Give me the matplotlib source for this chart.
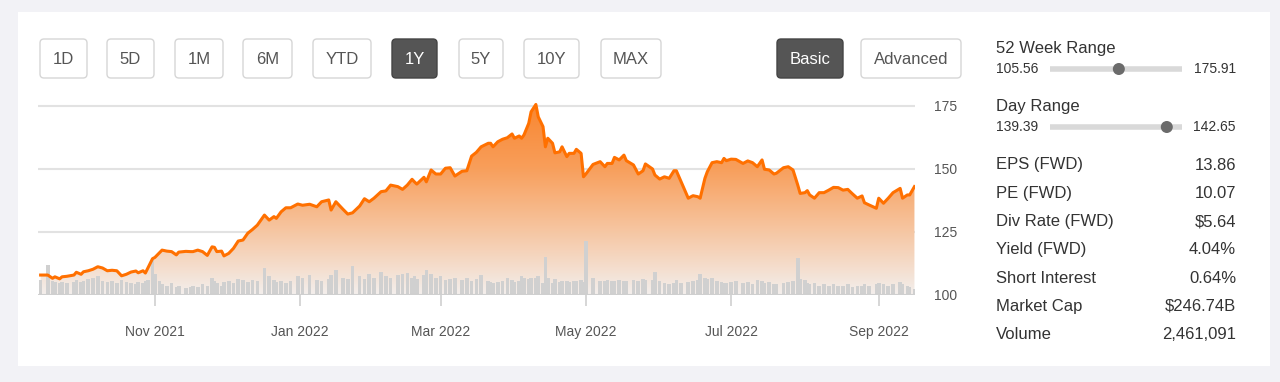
import matplotlib
matplotlib.use('Agg')
import matplotlib.pyplot as plt
import matplotlib.dates as mdates
from matplotlib.patches import FancyBboxPatch, Rectangle, Circle
from matplotlib.colors import LinearSegmentedColormap
import numpy as np
import pandas as pd

plt.rcParams['font.family'] = ['Liberation Sans', 'DejaVu Sans']

# price line
dates = [
    "2021-09-14", "2021-09-17", "2021-09-19", "2021-09-20", "2021-09-22", "2021-09-23", "2021-09-25",
    "2021-09-28", "2021-09-29", "2021-10-01", "2021-10-02", "2021-10-04", "2021-10-06", "2021-10-08",
    "2021-10-10", "2021-10-12", "2021-10-14", "2021-10-16", "2021-10-18", "2021-10-20", "2021-10-22",
    "2021-10-24", "2021-10-25", "2021-10-27", "2021-10-28", "2021-10-29", "2021-10-31",
    "2021-11-01", "2021-11-03", "2021-11-04", "2021-11-06", "2021-11-08", "2021-11-10", "2021-11-11",
    "2021-11-14", "2021-11-16", "2021-11-17", "2021-11-19", "2021-11-21", "2021-11-23", "2021-11-25",
    "2021-11-26", "2021-11-27", "2021-11-29", "2021-11-30", "2021-12-02", "2021-12-04", "2021-12-06",
    "2021-12-08", "2021-12-10", "2021-12-12",
    "2021-12-14", "2021-12-17", "2021-12-19", "2021-12-21", "2021-12-22", "2021-12-24", "2021-12-26",
    "2021-12-28", "2021-12-31", "2022-01-02", "2022-01-05", "2022-01-08", "2022-01-10", "2022-01-13",
    "2022-01-14", "2022-01-16", "2022-01-19", "2022-01-21", "2022-01-23", "2022-01-26", "2022-01-28",
    "2022-01-30", "2022-02-01", "2022-02-04", "2022-02-06", "2022-02-08", "2022-02-11", "2022-02-13",
    "2022-02-15", "2022-02-17", "2022-02-18", "2022-02-19", "2022-02-22", "2022-02-23", "2022-02-25",
    "2022-02-27", "2022-03-01", "2022-03-03", "2022-03-05", "2022-03-07", "2022-03-10", "2022-03-12",
    "2022-03-14", "2022-03-16", "2022-03-18", "2022-03-21", "2022-03-22", "2022-03-23", "2022-03-25",
    "2022-03-27", "2022-03-29", "2022-03-31", "2022-04-01", "2022-04-03", "2022-04-04", "2022-04-05",
    "2022-04-07", "2022-04-08", "2022-04-10", "2022-04-11", "2022-04-13", "2022-04-14", "2022-04-15",
    "2022-04-17", "2022-04-18", "2022-04-20", "2022-04-21", "2022-04-23", "2022-04-24", "2022-04-26",
    "2022-04-27", "2022-04-29", "2022-04-30", "2022-05-01", "2022-05-04", "2022-05-07", "2022-05-09",
    "2022-05-10", "2022-05-12", "2022-05-13", "2022-05-15", "2022-05-17", "2022-05-18", "2022-05-21",
    "2022-05-23", "2022-05-25", "2022-05-26", "2022-05-29", "2022-05-30", "2022-06-01", "2022-06-03",
    "2022-06-05", "2022-06-07", "2022-06-08", "2022-06-10", "2022-06-13", "2022-06-15", "2022-06-17",
    "2022-06-18",
    "2022-06-20", "2022-06-21", "2022-06-23", "2022-06-25", "2022-06-27", "2022-06-28", "2022-06-29",
    "2022-07-01", "2022-07-03", "2022-07-06", "2022-07-08", "2022-07-10", "2022-07-12", "2022-07-14",
    "2022-07-15", "2022-07-17", "2022-07-19", "2022-07-20", "2022-07-23", "2022-07-25", "2022-07-27",
    "2022-07-29", "2022-07-30", "2022-08-01", "2022-08-02", "2022-08-03", "2022-08-05", "2022-08-07",
    "2022-08-09", "2022-08-11", "2022-08-13", "2022-08-15", "2022-08-17", "2022-08-19", "2022-08-21",
    "2022-08-23", "2022-08-25", "2022-08-26", "2022-08-28", "2022-08-31", "2022-09-01", "2022-09-03",
    "2022-09-05", "2022-09-07", "2022-09-10", "2022-09-11", "2022-09-13", "2022-09-14", "2022-09-16",
]

prices = [
    107.8, 107.8, 106.5, 107.1, 106.3, 107.1, 107.3, 107.8, 108.9, 108.1, 109.1, 109.5, 110.1, 111.1,
    110.6, 109.5, 109.7, 109.5, 107.5, 108.1, 109.0, 109.4, 108.7, 109.5, 108.6, 110.5, 114.3,
    114.8, 116.7, 117.7, 117.3, 117.1, 115.8, 116.9, 117.2, 117.1, 117.1, 117.7, 117.1, 115.6, 119.0,
    118.8, 117.1, 117.3, 115.4, 116.4, 118.4, 121.3, 121.7, 124.4, 125.9,
    127.6, 131.6, 129.6, 131.0, 130.3, 132.9, 134.5, 134.5, 136.0, 135.5, 135.9, 134.9, 136.9, 137.6,
    133.6, 136.9, 133.9, 132.0, 132.5, 135.2, 138.1, 136.9, 138.3, 140.9, 141.2, 143.5, 142.9, 141.8,
    143.5, 145.8, 144.8, 143.9, 146.6, 144.8, 149.5, 147.9, 147.9, 150.2, 150.4, 147.1, 149.0, 149.2,
    155.0, 156.5, 158.7, 160.1, 160.1, 158.7, 160.7, 161.7, 162.3, 163.8, 162.1, 163.0, 162.1, 163.4,
    168.0, 172.6, 175.5, 170.6, 166.7, 158.7, 162.1, 160.1, 156.3, 156.7, 158.7, 154.8, 156.1, 156.1,
    157.7, 156.1, 146.8, 147.9, 151.7, 152.8, 150.8, 152.1, 152.1, 154.5, 153.5, 155.4, 153.2, 151.5,
    147.9, 149.2, 151.9, 149.9, 147.5, 145.9, 146.8, 146.2, 149.2, 149.2, 144.8, 138.3, 139.3, 138.9,
    138.3,
    146.2, 148.8, 152.4, 152.8, 152.4, 154.1, 153.2, 153.8, 153.7, 152.1, 153.1, 152.4, 150.8, 153.5,
    149.8, 149.5, 147.9, 148.2, 150.4, 150.8, 149.5, 143.5, 140.2, 140.5, 141.3, 139.6, 138.3, 140.5,
    140.5, 141.5, 142.6, 142.5, 141.5, 141.8, 140.0, 138.3, 139.2, 136.5, 135.6, 134.3, 138.3, 136.3,
    138.3, 140.5, 142.2, 138.3, 139.6, 139.6, 142.9,
]

# volume bars, millions of shares
volumes = [
    6.5, 13.0, 6.0, 5.5, 5.0, 5.5, 5.0, 5.5, 6.5, 5.5, 6.0, 7.0, 7.5, 8.0, 6.0, 5.5, 6.0, 5.0, 6.5,
    5.5, 5.0, 4.5, 5.5, 5.0, 6.0, 6.5, 16.0,
    9.0, 6.0, 4.5, 4.0, 5.0, 3.5, 4.0, 3.0, 3.5, 4.0, 3.5, 4.5, 4.0, 7.5, 6.0, 5.0, 4.0, 5.5, 6.0,
    5.0, 7.0, 6.5, 5.5, 6.5,
    6.0, 11.5, 8.0, 6.5, 5.5, 6.0, 5.0, 6.0, 8.0, 7.5, 8.5, 6.5, 6.0, 7.0, 8.5, 11.0, 7.5, 7.0, 12.5,
    8.0, 7.0, 9.0, 7.5, 10.0, 8.0, 7.5, 8.5, 9.0, 9.5, 7.5, 8.0, 7.0, 8.5, 11.0, 9.0, 7.5, 8.0, 6.5,
    7.0, 7.5, 6.5, 7.5,
    6.0, 7.0, 8.5, 6.0, 5.5, 5.0, 5.5, 6.0, 7.5, 6.5, 5.5, 6.0, 8.0, 7.5, 7.0, 7.5, 7.5, 8.0, 5.0,
    16.5, 7.5, 5.0, 7.0, 5.5, 6.0, 6.0, 5.5, 6.0, 6.0, 6.5, 5.5, 23.5, 7.5, 6.0, 6.0, 6.5, 6.0, 6.0,
    6.5, 6.0, 6.0, 6.5, 6.0, 7.0, 6.5, 6.5, 10.0, 6.0, 5.0, 4.5, 5.0, 6.5, 5.0, 5.5, 6.0, 6.5, 9.0,
    7.5, 7.0, 7.5, 6.0, 5.5, 5.0, 5.0, 5.5, 6.0, 5.0, 5.5, 4.5, 6.5, 6.0, 5.0, 5.5, 4.5, 4.5, 5.0,
    5.5, 6.0, 16.0, 7.0, 6.5, 5.0, 4.5, 5.0, 4.0, 4.5, 4.0, 4.5, 4.0, 4.0, 4.5, 3.5, 4.0, 4.0, 4.5,
    4.0, 4.5, 5.0, 4.5, 4.0, 4.5, 5.5, 4.5, 4.0, 3.5, 2.5,
]

tick_dates = ["2021-11-01", "2022-01-01", "2022-03-01", "2022-05-01", "2022-07-01", "2022-09-01"]
tick_labels = ["Nov 2021", "Jan 2022", "Mar 2022", "May 2022", "Jul 2022", "Sep 2022"]
price_ticks = [100, 125, 150, 175]

periods = ['1D', '5D', '1M', '6M', 'YTD', '1Y', '5Y', '10Y', 'MAX']
active_period = '1Y'
modes = ['Basic', 'Advanced']

range_rows = [('52 Week Range', 105.56, 175.91), ('Day Range', 139.39, 142.65)]
last_price = 142.4
stat_labels = ['EPS (FWD)', 'PE (FWD)', 'Div Rate (FWD)', 'Yield (FWD)', 'Short Interest', 'Market Cap', 'Volume']
stat_values = ['13.86', '10.07', '$5.64', '4.04%', '0.64%', '$246.74B', '2,461,091']

W, H = 1280, 382
fig = plt.figure(figsize=(12.8, 3.82), dpi=100, facecolor='#f2f2f6')

# background layer in pixel coordinates
bg = fig.add_axes([0, 0, 1, 1])
bg.set_xlim(0, W)
bg.set_ylim(H, 0)
bg.axis('off')
bg.add_patch(Rectangle((18, 12), 1252, 354, fc='white', ec='none'))

def button(x0, x1, text, dark):
    fc = '#555555' if dark else 'white'
    ec = '#444444' if dark else '#d6d6d6'
    bg.add_patch(FancyBboxPatch((x0, 39), x1 - x0, 39, boxstyle='round,pad=0,rounding_size=4',
                                fc=fc, ec=ec, lw=1))
    bg.text((x0 + x1) / 2, 59, text, ha='center', va='center', fontsize=12,
            color='white' if dark else '#555555')

period_x = [(40, 87), (107, 154), (175, 223), (243, 292), (313, 371), (392, 437), (459, 503), (524, 579), (601, 661)]
for p, (a, b) in zip(periods, period_x):
    button(a, b, p, p == active_period)
button(777, 843, modes[0], True)
button(861, 961, modes[1], False)

# right side stats
track_x0, track_x1 = 1050, 1182
for i, (name, lo, hi) in enumerate(range_rows):
    ty = 49 + i * 58
    bg.text(996, ty, name, fontsize=12, color='#333333', va='center')
    bg.text(996, ty + 20, f'{lo:.2f}', fontsize=10, color='#333333', va='center')
    bg.text(1236, ty + 20, f'{hi:.2f}', fontsize=10, color='#333333', va='center', ha='right')
    bg.plot([track_x0, track_x1], [ty + 20, ty + 20], color='#d9d9d9', lw=4, solid_capstyle='butt', zorder=2)
    frac = (last_price - lo) / (hi - lo)
    dx = track_x0 + 6 + frac * (track_x1 - track_x0 - 12)
    bg.add_patch(Circle((dx, ty + 20), 6, fc='#6b6b6b', ec='none', zorder=3))

for i, (lab, val) in enumerate(zip(stat_labels, stat_values)):
    ty = 165 + i * 28.3
    bg.text(996, ty, lab, fontsize=12, color='#333333', va='center')
    bg.text(1236, ty, val, fontsize=12, color='#333333', va='center', ha='right')

# chart
d = pd.to_datetime(dates)
x_left = mdates.date2num(pd.Timestamp('2021-11-01')) - 49.1
x_right = x_left + 877 / 2.381
ylo, yhi = 100, 177

ax = fig.add_axes([38 / W, (H - 294.7) / H, 877 / W, 194 / H])
ax.patch.set_visible(False)
for y in price_ticks[1:]:
    ax.axhline(y, color='#e2e2e2', lw=1.5, zorder=0)

poly = ax.fill_between(d, prices, ylo, facecolor='none', edgecolor='none')
cmap = LinearSegmentedColormap.from_list('fade', ['#f3efed', '#f6c6a2', '#f89e5a', '#f98630'])
grad = np.linspace(0, 1, 256).reshape(-1, 1)
im = ax.imshow(grad, cmap=cmap, aspect='auto', origin='lower',
               extent=[x_left, x_right, ylo, 176], zorder=1)
im.set_clip_path(poly.get_paths()[0], ax.transData)

# volume
axv = ax.twinx()
axv.bar(d, volumes, width=1.5, color='#d0d0d0', zorder=2)
axv.set_ylim(0, 85)
axv.set_xlim(x_left, x_right)
axv.axis('off')

# line on top
axl = ax.twinx()
axl.plot(d, prices, color='#ff7000', lw=2.2, solid_joinstyle='round')
axl.axhline(ylo, color='#cfcfcf', lw=1.5)
axl.set_ylim(ylo, yhi)
axl.set_xlim(x_left, x_right)
axl.axis('off')

ax.set_xlim(x_left, x_right)
ax.set_ylim(ylo, yhi)
ax.set_xticks(pd.to_datetime(tick_dates))
ax.set_xticklabels(tick_labels)
ax.set_yticks(price_ticks)
ax.yaxis.tick_right()
ax.tick_params(axis='x', length=8, width=1.1, color='#cccccc', pad=14, labelsize=10, labelcolor='#555555')
ax.tick_params(axis='y', length=0, pad=14, labelsize=10, labelcolor='#555555')
for s in ax.spines.values():
    s.set_visible(False)

fig.savefig('out.png', dpi=100, facecolor=fig.get_facecolor())
